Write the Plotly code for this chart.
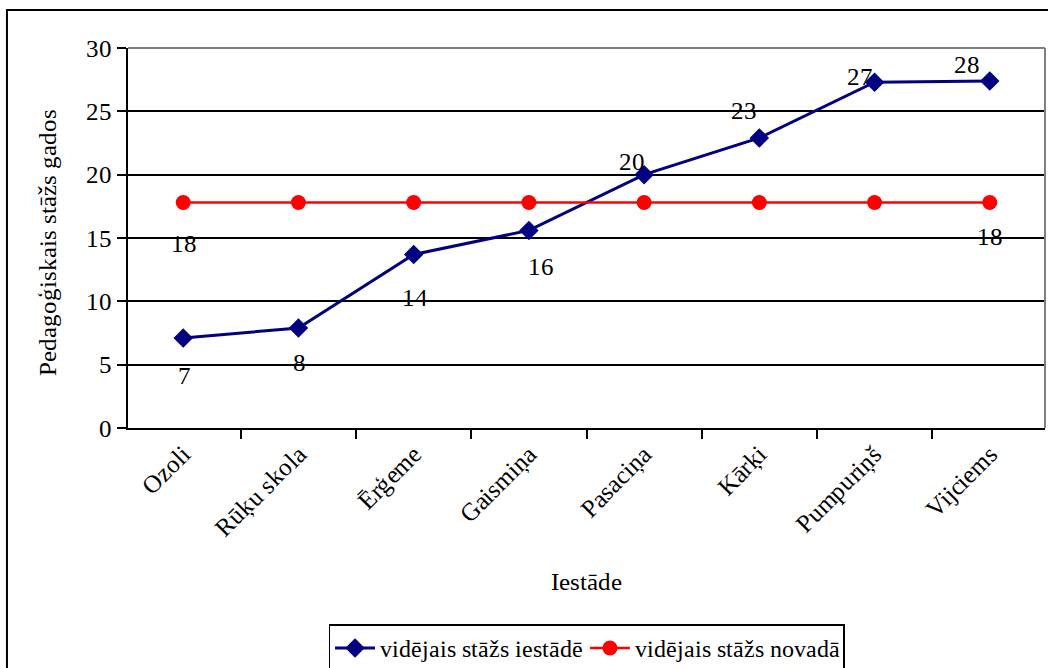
import base64
import glob

import plotly.graph_objects as go

iestades = ['Ozoli', 'Rūķu skola', 'Ērģeme', 'Gaismiņa', 'Pasaciņa', 'Kārķi', 'Pumpuriņš', 'Vijciems']
stazs_iestade = [7.1, 7.9, 13.7, 15.6, 20.0, 22.9, 27.3, 27.4]
stazs_novads = [17.8, 17.8, 17.8, 17.8, 17.8, 17.8, 17.8, 17.8]
iestade_labels = ['7', '8', '14', '16', '20', '23', '27', '28']
novads_labels = ['18', '', '', '', '', '', '', '18']

# label offsets in pixels (x, y) relative to the marker
iestade_shift = [(1, -37), (1, -35), (1, -43), (12, -36), (-13, 13), (-16, 27), (-15, 6), (-23, 16)]
novads_shift = [(0, -41), (0, 0), (0, 0), (0, 0), (0, 0), (0, 0), (0, 0), (0, -34)]

serif = 'EmbSerif, Liberation Serif, Times New Roman, serif'
navy = '#000080'
red = '#FF0000'

# local Liberation Serif file, embedded so the browser has it right away
font_b64 = None
paths = (glob.glob('/usr/share/fonts/**/LiberationSerif-Regular.ttf', recursive=True)
         + glob.glob('/usr/local/share/fonts/**/LiberationSerif-Regular.ttf', recursive=True))
if paths:
    with open(paths[0], 'rb') as f:
        font_b64 = base64.b64encode(f.read()).decode()

fig = go.Figure()
fig.add_trace(go.Scatter(
    x=iestades, y=stazs_iestade, mode='lines+markers',
    name='vidējais stāžs iestādē',
    line=dict(color=navy, width=3),
    marker=dict(symbol='diamond', size=15, color=navy)))
fig.add_trace(go.Scatter(
    x=iestades, y=stazs_novads, mode='lines+markers',
    name='vidējais stāžs novadā',
    line=dict(color=red, width=2.5),
    marker=dict(symbol='circle', size=15, color=red)))

annotations = []
for cat, val, lab, (dx, dy) in zip(iestades, stazs_iestade, iestade_labels, iestade_shift):
    annotations.append(dict(x=cat, y=val, text=lab, showarrow=False,
                            xshift=dx, yshift=dy, font=dict(family=serif, size=25, color='black')))
for cat, val, lab, (dx, dy) in zip(iestades, stazs_novads, novads_labels, novads_shift):
    if lab:
        annotations.append(dict(x=cat, y=val, text=lab, showarrow=False,
                                xshift=dx, yshift=dy, font=dict(family=serif, size=25, color='black')))

# axis titles
annotations.append(dict(text='Iestāde', xref='paper', yref='paper', x=0.5, y=-0.405,
                        xanchor='center', yanchor='middle', showarrow=False,
                        font=dict(family=serif, size=25)))
annotations.append(dict(text='Pedagoģiskais stāžs gados', xref='paper', yref='paper',
                        x=-0.087, y=0.487, xanchor='center', yanchor='middle',
                        textangle=-90, showarrow=False, font=dict(family=serif, size=25)))

fig.update_layout(
    width=1048, height=668,
    margin=dict(l=128, r=3, t=48, b=240, autoexpand=False),
    paper_bgcolor='white', plot_bgcolor='white',
    font=dict(family=serif, size=24, color='black'),
    showlegend=True,
    legend=dict(orientation='h', x=0.5, xanchor='center', y=-0.517, yanchor='top',
                bordercolor='black', borderwidth=1.5, font=dict(family=serif, size=24),
                itemwidth=40, tracegroupgap=0),
    annotations=annotations,
    shapes=[
        dict(type='rect', xref='paper', yref='paper', x0=-0.132, y0=-0.7, x1=1.2, y1=1.1,
             line=dict(color='black', width=2), fillcolor='rgba(0,0,0,0)', layer='below'),
        dict(type='line', xref='paper', yref='paper', x0=0, y0=1, x1=1, y1=1,
             line=dict(color='#808080', width=2)),
        dict(type='line', xref='paper', yref='paper', x0=1, y0=0, x1=1, y1=1,
             line=dict(color='#808080', width=2)),
    ],
)

fig.update_xaxes(
    type='category', tickangle=-45, tickson='boundaries', automargin=False,
    ticks='outside', ticklen=9, tickwidth=2, tickcolor='black',
    showline=True, linecolor='black', linewidth=2,
    showgrid=False, tickfont=dict(family=serif, size=25),
)
fig.update_yaxes(
    range=[0, 30], dtick=5, ticks='outside', ticklen=9, tickwidth=2, tickcolor='black',
    showline=True, linecolor='black', linewidth=2, automargin=False,
    showgrid=True, gridcolor='black', gridwidth=1.5, zeroline=False,
    tickfont=dict(family=serif, size=25),
)

# drop the page margin; add the serif font and redraw once it is ready
post = "document.body.style.margin='0px';\nvar gd = document.getElementById('{plot_id}');\n"
if font_b64:
    post += ("var ff = new FontFace('EmbSerif', 'url(data:font/ttf;base64," + font_b64 + ")');\n"
             "ff.load().then(function(f){ document.fonts.add(f); Plotly.redraw(gd); });\n")
else:
    post += "document.fonts.ready.then(function(){ Plotly.redraw(gd); });\n"

fig.write_html('out.html', config={'displayModeBar': False}, post_script=post)
